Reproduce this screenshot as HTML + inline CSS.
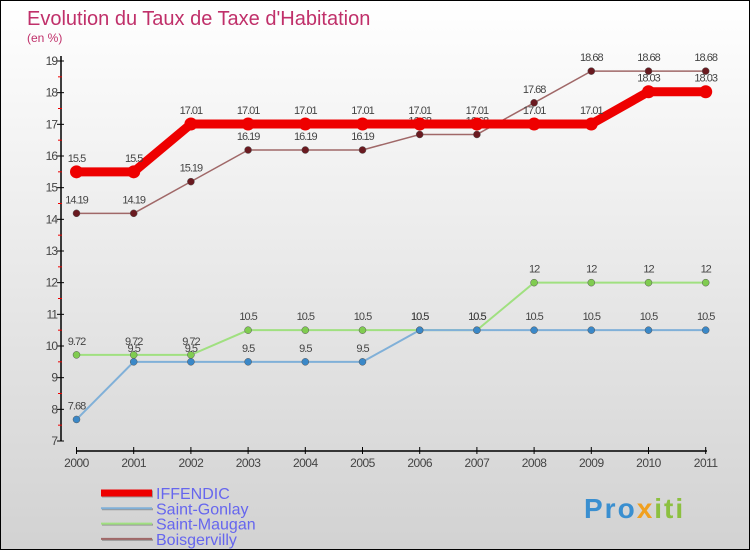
<!DOCTYPE html>
<html><head><meta charset="utf-8"><style>
body{margin:0;}
#c{width:750px;height:550px;position:relative;overflow:hidden;background:linear-gradient(#ffffff,#d2d2d2);border:1px solid #000;box-sizing:border-box;font-family:"Liberation Sans",sans-serif;}
svg{position:absolute;left:0;top:0;}
</style></head><body>
<div id="c">
<svg id="s" width="750" height="550">
<text x="26" y="24" font-size="20" fill="#c0306a">Evolution du Taux de Taxe d'Habitation</text>
<text x="26" y="41" font-size="12" fill="#c0306a">(en %)</text>
<text x="583" y="517" font-size="28" font-weight="bold" fill="#3a8fd0" letter-spacing="2">Pro<tspan fill="#f0a020">x</tspan><tspan fill="#8cc040">iti</tspan></text>
</svg>
</div>
<script>
const years=[2000,2001,2002,2003,2004,2005,2006,2007,2008,2009,2010,2011];
const iffendic=[15.5,15.5,17.01,17.01,17.01,17.01,17.01,17.01,17.01,17.01,18.03,18.03];
const gonlay=[7.68,9.5,9.5,9.5,9.5,9.5,10.5,10.5,10.5,10.5,10.5,10.5];
const maugan=[9.72,9.72,9.72,10.5,10.5,10.5,10.5,10.5,12,12,12,12];
const boisg=[14.19,14.19,15.19,16.19,16.19,16.19,16.68,16.68,17.68,18.68,18.68,18.68];
const yTicks=[7,8,9,10,11,12,13,14,15,16,17,18,19];
const names=["IFFENDIC","Saint-Gonlay","Saint-Maugan","Boisgervilly"];
const NS="http://www.w3.org/2000/svg";
const s=document.getElementById('s');
const X=i=>75.5+i*57.2;
const Y=v=>440-(v-7)*(380/12);
function el(t,a,p){const e=document.createElementNS(NS,t);for(const k in a)e.setAttribute(k,a[k]);(p||s).appendChild(e);return e;}
let ax=el('line',{x1:60,y1:55,x2:60,y2:440,stroke:'#000','stroke-width':1.5});


let bx=el('line',{x1:75,y1:450,x2:706,y2:450,stroke:'#000','stroke-width':1.5});


yTicks.forEach((v,i)=>{
 el('line',{x1:56,y1:Y(v),x2:63,y2:Y(v),stroke:'#000'});
 if(i<yTicks.length-1)el('line',{x1:57,y1:Y(v+0.5),x2:61,y2:Y(v+0.5),stroke:'#e00'});
 const t=el('text',{x:56,y:Y(v)+4,'text-anchor':'end','font-size':12,fill:'#444','letter-spacing':'-1'});
 t.textContent=v;
 
 
});
years.forEach((y,i)=>{
 el('line',{x1:X(i),y1:446,x2:X(i),y2:453,stroke:'#000'});
 const t=el('text',{x:X(i),y:466,'text-anchor':'middle','font-size':12,fill:'#444','letter-spacing':'-0.5'});
 t.textContent=y;
 
 
});
const series=[
 {d:maugan,c:'#a0e080',dot:'#80cc50',w:2,r:3.5,n:'saint-maugan'},
 {d:gonlay,c:'#80b0d8',dot:'#3a88c8',w:2,r:3.5,n:'saint-gonlay'},
 {d:boisg,c:'#a06868',dot:'#6a1a20',w:1.5,r:3.5,n:'boisgervilly'},
 {d:iffendic,c:'#ee0000',dot:'#ee0000',w:9,r:6.5,n:'iffendic'}
];
series.forEach(S=>{
 const g=el('g',{});
 
 
 const pl=el('polyline',{points:S.d.map((v,i)=>X(i)+','+Y(v)).join(' '),fill:'none',stroke:S.c,'stroke-width':S.w},g);
 
 
 S.d.forEach((v,i)=>{
  const c=el('circle',{cx:X(i),cy:Y(v),r:S.r,fill:S.dot,stroke:'#555','stroke-width':S.w>5?0:0.5},g);
  
  
  const t=el('text',{x:X(i),y:Y(v)-10,'text-anchor':'middle','font-size':11,fill:'#444','letter-spacing':'-1'},g);
  t.textContent=v;
  
  
 });
});
const lg=[{c:'#ee0000',w:7},{c:'#80b0d8',w:2},{c:'#a0e080',w:2},{c:'#a06868',w:2}];
lg.forEach((L,i)=>{
 const y=492+i*15.3;
 const g=el('g',{});
 
 
 el('line',{x1:101,y1:y+1,x2:152,y2:y+1,stroke:'#999','stroke-width':L.w},g);
 el('line',{x1:100,y1:y,x2:151,y2:y,stroke:L.c,'stroke-width':L.w},g);
 const t=el('text',{x:155,y:y+6,'font-size':16,fill:'#6666ee'},g);
 t.textContent=names[i];
});
</script>
</body></html>
